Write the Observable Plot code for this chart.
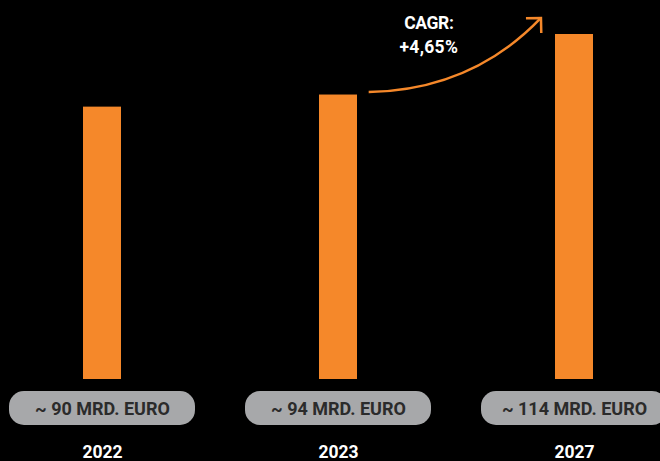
<!DOCTYPE html>
<html>
<head>
<meta charset="utf-8">
<script src="https://cdn.jsdelivr.net/npm/d3@7"></script>
<script src="https://cdn.jsdelivr.net/npm/@observablehq/plot@0.6"></script>
<style>
  html, body { margin: 0; padding: 0; background: #000; }
  #chart { width: 660px; height: 461px; overflow: hidden; }
  svg { display: block; }
</style>
</head>
<body>
<div id="chart"></div>
<script>
// ---- data ----
const years = ["2022", "2023", "2027"];
const values = [90, 94, 114];
const valueLabels = ["~ 90 MRD. EURO", "~ 94 MRD. EURO", "~ 114 MRD. EURO"];
const cagrLines = ["CAGR:", "+4,65%"];
const cagrFrom = "2023";
const cagrTo = "2027";
const cagrValues = [94.8, 119.3];     // arrow start / end value
const cagrLabelValues = [117.6, 109.7];

const rows = years.map((year, i) => ({year, value: values[i], label: valueLabels[i]}));

const ORANGE = "#f5882a";
const PILL = "#a7a8aa";
const FONT = "Roboto, 'Liberation Sans Narrow', 'DejaVu Sans Condensed', sans-serif";

function cagrMark(...args) {
  const scales = args.find(a => a && typeof a.x === "function" && typeof a.y === "function");
  const {x, y} = scales;
  const bw = x.bandwidth ? x.bandwidth() : 0;
  const cx = k => x(k) + bw / 2;
  const xa = cx(cagrFrom), xb = cx(cagrTo);
  const lerp = t => xa + (xb - xa) * t;
  const p0 = [lerp(0.13), y(cagrValues[0])];
  const p2 = [lerp(0.86), y(cagrValues[1])];
  const c = [p0[0] + 0.6 * (p2[0] - p0[0]), p0[1] - 0.03 * (p0[1] - p2[1])];
  const g = d3.create("svg:g");
  g.append("path")
    .attr("d", `M${p0[0]},${p0[1]} Q${c[0]},${c[1]} ${p2[0]},${p2[1]}`)
    .attr("fill", "none").attr("stroke", ORANGE).attr("stroke-width", 2.5);
  const ang = Math.atan2(p2[1] - c[1], p2[0] - c[0]);
  const L = 15, h = Math.PI / 4;
  const a1 = [p2[0] - L * Math.cos(ang - h), p2[1] - L * Math.sin(ang - h)];
  const a2 = [p2[0] - L * Math.cos(ang + h), p2[1] - L * Math.sin(ang + h)];
  g.append("path")
    .attr("d", `M${a1[0]},${a1[1]} L${p2[0]},${p2[1]} L${a2[0]},${a2[1]}`)
    .attr("fill", "none").attr("stroke", ORANGE).attr("stroke-width", 2.5)
    .attr("stroke-linejoin", "miter");
  const tx = lerp(0.385);
  cagrLines.forEach((t, i) => {
    g.append("text")
      .attr("x", tx).attr("y", y(cagrLabelValues[i]))
      .attr("dy", "0.36em")
      .attr("text-anchor", "middle")
      .attr("fill", "#fff")
      .attr("font-family", FONT)
      .attr("font-weight", "bold")
      .attr("font-size", 17.5)
      .attr("letter-spacing", i === 0 ? "-0.4px" : "0.3px")
      .text(t);
  });
  return g.node();
}

const chart = Plot.plot({
  width: 660,
  height: 461,
  marginTop: 34,
  marginBottom: 82,
  marginLeft: 18.5,
  marginRight: 2.4,
  style: {background: "#000", overflow: "visible"},
  x: {domain: years, paddingInner: 0.8393, paddingOuter: 0.271, axis: null},
  y: {domain: [0, 114], axis: null},
  marks: [
    Plot.barY(rows, {x: "year", y: "value", fill: ORANGE}),
    Plot.barY(rows, {x: "year", y1: d => 0, y2: d => 0, fill: PILL,
      insetTop: 12, insetBottom: -46, insetLeft: -74, insetRight: -74, rx: 15}),
    Plot.text(rows, {x: "year", y: d => 0, text: "label", dy: 29.5,
      fill: "#2b2b2b", fontSize: 18, fontWeight: "bold", fontFamily: FONT,
      style: "letter-spacing:-0.6px"}),
    Plot.text(rows, {x: "year", y: d => 0, text: "year", dy: 73,
      fill: "#fff", fontSize: 17.5, fontWeight: "bold", fontFamily: FONT})
  ]
});
// custom annotation layer drawn with the plot's own scales
const sx = chart.scale("x"), sy = chart.scale("y");
const xf = Object.assign(v => sx.apply(v), {bandwidth: () => sx.bandwidth});
const yf = v => sy.apply(v);
d3.select(chart).append(() => cagrMark({x: xf, y: yf}));
document.getElementById("chart").append(chart);
</script>
</body>
</html>
